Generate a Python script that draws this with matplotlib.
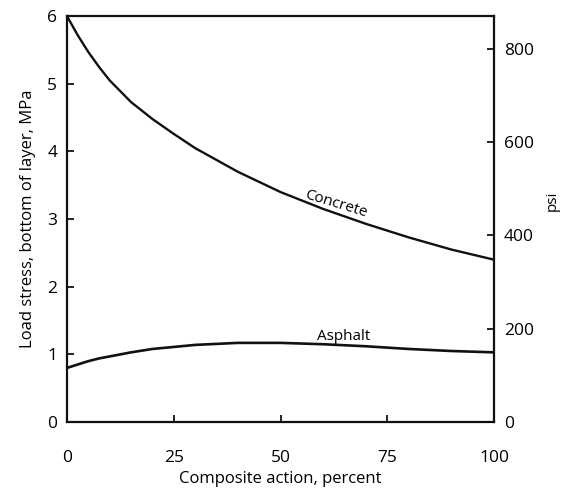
import numpy as np
import matplotlib
matplotlib.use('Agg')
import matplotlib.pyplot as plt

# values
composite = [0, 2.5, 5, 7.5, 10, 15, 20, 25, 30, 40, 50, 60, 70, 80, 90, 100]
concrete = [6.0, 5.72, 5.47, 5.25, 5.05, 4.73, 4.48, 4.26, 4.05, 3.70, 3.40, 3.15, 2.93, 2.73, 2.55, 2.40]
asphalt = [0.80, 0.85, 0.90, 0.94, 0.97, 1.03, 1.08, 1.11, 1.14, 1.17, 1.17, 1.15, 1.12, 1.08, 1.05, 1.03]

x_ticks = [0, 25, 50, 75, 100]
mpa_ticks = [0, 1, 2, 3, 4, 5, 6]
psi_ticks = [0, 200, 400, 600, 800]
MPA_TO_PSI = 145.04

plt.rcParams['font.family'] = ['Open Sans', 'DejaVu Sans']

fig = plt.figure(figsize=(5.65, 4.91), dpi=100)
ax = fig.add_axes([0.1186, 0.1405, 0.7558, 0.8265])

ax.plot(composite, concrete, color='#111111', lw=1.7)
ax.plot(composite, asphalt, color='#111111', lw=1.9)

ax.set_xlim(0, 100)
ax.set_ylim(0, 6)
ax.set_xticks(x_ticks)
ax.set_yticks(mpa_ticks)
ax.tick_params(direction='in', length=5, width=1.2, labelsize=12.5)
ax.tick_params(axis='x', pad=20)
ax.tick_params(axis='y', pad=7)
for s in ax.spines.values():
    s.set_linewidth(1.6)
    s.set_color('#111111')

ax.set_xlabel('Composite action, percent', fontsize=12, labelpad=4)
ax.set_ylabel('Load stress, bottom of layer, MPa', fontsize=12, labelpad=8)

ax2 = ax.twinx()
ax2.set_ylim(0, 6 * MPA_TO_PSI)
ax2.set_yticks(psi_ticks)
ax2.tick_params(direction='in', length=5, width=1.2, labelsize=12.5, pad=7)
for s in ax2.spines.values():
    s.set_visible(False)
fig.text(0.978, 0.59, 'psi', rotation=90, ha='center', va='center', fontsize=11)

ax.text(63.1, 3.22, 'Concrete', rotation=-17, ha='center', va='center',
        fontsize=11, rotation_mode='anchor')
ax.text(64.8, 1.27, 'Asphalt', ha='center', va='center', fontsize=11)

fig.savefig('out.png', dpi=100)
